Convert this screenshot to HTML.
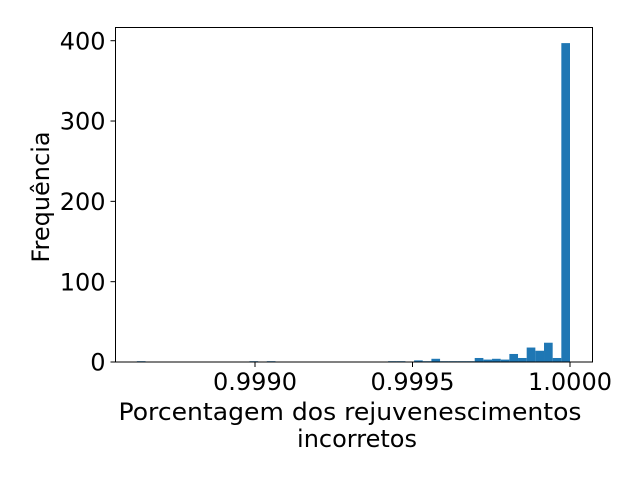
<!DOCTYPE html>
<html><head><meta charset="utf-8"><style>
html,body{margin:0;padding:0;background:#fff;}
svg{display:block;font-family:"DejaVu Sans","Liberation Sans",sans-serif;}
</style></head><body>
<svg id="chart" width="640" height="480" viewBox="0 0 640 480">
<g id="bars"></g>
<g id="axes"></g>
</svg>
<script>
const binStart = 0.998625;
const binWidth = 0.0000275;
const counts = [1,0,0,0,0,0,0,0,0,0,0,0,0,1,0,1,0,0,0,0,0,0,0,0,0,0,0,0,0,1,1,0,2,1,4,1,1,1,1,5,3,4,3,10,5,18,14,24,5,397];
const xTicks = [0.9990, 0.9995, 1.0000];
const xTickLabels = ["0.9990","0.9995","1.0000"];
const yTicks = [0,100,200,300,400];

const NS="http://www.w3.org/2000/svg";
const L=115.5,R=592.5,T=27.5,B=362;
const x=v=>570+(v-1.0)/0.0005*157.5;
const y=v=>B-v*(B-40.7)/400;
function mk(tag,attrs,parent){const e=document.createElementNS(NS,tag);for(const k in attrs)e.setAttribute(k,attrs[k]);parent.appendChild(e);return e;}
const bars=document.getElementById('bars'),axes=document.getElementById('axes');
counts.forEach((c,i)=>{
  if(c<=0)return;
  const x0=x(binStart+i*binWidth),x1=x(binStart+(i+1)*binWidth);
  const r=mk('rect',{x:x0,y:y(c),width:x1-x0,height:B-y(c),fill:'#1f77b4'},bars);
  
  
});
const frame=mk('rect',{x:L,y:T,width:R-L,height:B-T,fill:'none',stroke:'#000','stroke-width':1},axes);


xTicks.forEach((v,i)=>{
  const px=x(v);
  mk('line',{x1:px,x2:px,y1:B,y2:B+5,stroke:'#000'},axes);
  const t=mk('text',{x:px,y:B+28,'text-anchor':'middle','font-size':24},axes);
  t.textContent=xTickLabels[i];
  
  
});
yTicks.forEach(v=>{
  const py=y(v);
  mk('line',{x1:L,x2:L-5,y1:py,y2:py,stroke:'#000'},axes);
  const t=mk('text',{x:L-10,y:py+8.7,'text-anchor':'end','font-size':24},axes);
  t.textContent=String(v);
  
  
});
</script>
<svg width="640" height="480" style="position:absolute;left:0;top:0;font-family:'DejaVu Sans','Liberation Sans',sans-serif">
<text x="350" y="420" text-anchor="middle" font-size="24" textLength="463" lengthAdjust="spacingAndGlyphs">Porcentagem dos rejuvenescimentos</text>
<text x="357" y="447" text-anchor="middle" font-size="24">incorretos</text>
<text transform="translate(49,197) rotate(-90)" text-anchor="middle" font-size="24">Frequência</text>
</svg>
</body></html>
